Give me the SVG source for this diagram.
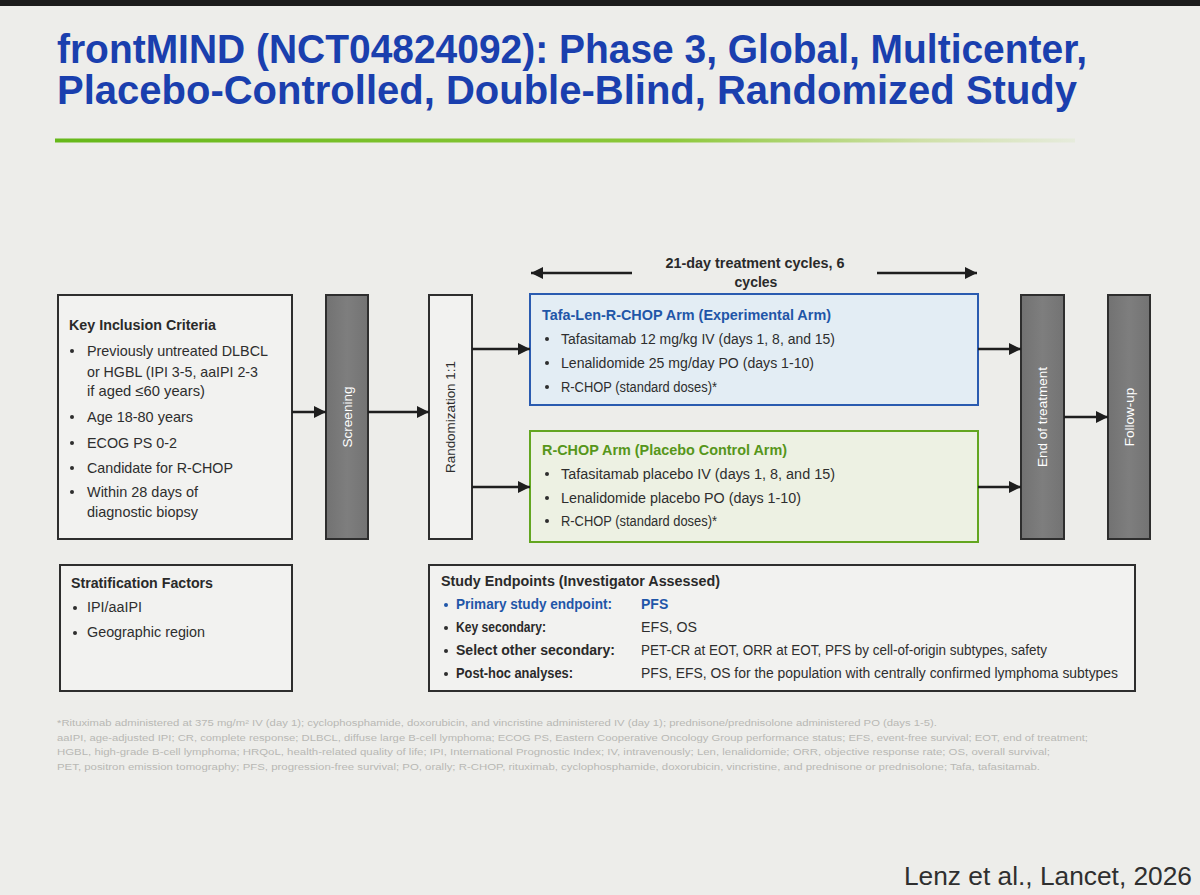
<svg xmlns="http://www.w3.org/2000/svg" width="1200" height="895" viewBox="0 0 1200 895">
<defs>
<linearGradient id="gline" x1="0" y1="0" x2="1" y2="0">
<stop offset="0" stop-color="#66b81a"/>
<stop offset="0.6" stop-color="#8cc83a"/>
<stop offset="0.85" stop-color="#cfe0a8"/>
<stop offset="1" stop-color="#e6ebdc"/>
</linearGradient>
<linearGradient id="gbar" x1="0" y1="0" x2="1" y2="0">
<stop offset="0" stop-color="#727272"/>
<stop offset="0.5" stop-color="#7e7e7e"/>
<stop offset="1" stop-color="#737373"/>
</linearGradient>
<marker id="ah" viewBox="0 0 12 12" refX="12" refY="6" markerWidth="12" markerHeight="13" markerUnits="userSpaceOnUse" orient="auto">
<path d="M0,0 L12,6 L0,12 z" fill="#1e1e1e"/>
</marker>
<style>
.t{font-family:"Liberation Sans",Arial,sans-serif;}
.title{font-family:"Liberation Sans",Arial,sans-serif;font-weight:bold;font-size:40px;fill:#1a3fae;}
.hd{font-family:"Liberation Sans",Arial,sans-serif;font-weight:bold;font-size:14.5px;fill:#2a2a2a;}
.tx{font-family:"Liberation Sans",Arial,sans-serif;font-size:14.5px;fill:#2e2e2e;}
.sm{font-family:"Liberation Sans",Arial,sans-serif;font-size:14px;fill:#2e2e2e;}
.smb{font-family:"Liberation Sans",Arial,sans-serif;font-size:14px;font-weight:bold;fill:#2a2a2a;}
.box{fill:#f2f2f0;stroke:#2e2e2e;stroke-width:2;}
.bar{fill:url(#gbar);stroke:#2e2e2e;stroke-width:2;}
.vt{font-family:"Liberation Sans",Arial,sans-serif;font-size:13.5px;fill:#ffffff;text-anchor:middle;}
.vd{font-family:"Liberation Sans",Arial,sans-serif;font-size:13.5px;fill:#2e2e2e;text-anchor:middle;}
.con{stroke:#1e1e1e;stroke-width:2.5;fill:none;marker-end:url(#ah);}
.dot{fill:#2e2e2e;}
.fn{font-family:"Liberation Sans",Arial,sans-serif;font-size:8.5px;fill:#b8b8b4;}
</style>
</defs>
<rect x="0" y="0" width="1200" height="895" fill="#ededea"/>
<rect x="0" y="0" width="1200" height="6" fill="#1c1c1c"/>

<g id="title">
<text class="title" x="57" y="63" textLength="1030" lengthAdjust="spacingAndGlyphs">frontMIND (NCT04824092): Phase 3, Global, Multicenter,</text>
<text class="title" x="57" y="104" textLength="1020" lengthAdjust="spacingAndGlyphs">Placebo-Controlled, Double-Blind, Randomized Study</text>
<rect x="55" y="138.5" width="1020" height="4" fill="url(#gline)"/>
</g>

<g id="cycles">
<text class="smb" x="755" y="268" text-anchor="middle" textLength="179" lengthAdjust="spacingAndGlyphs">21-day treatment cycles, 6</text>
<text class="smb" x="756" y="287" text-anchor="middle">cycles</text>
</g>

<g id="inclusion">
<rect class="box" x="58" y="295" width="234" height="244"/>
<text class="hd" x="69" y="330" textLength="147" lengthAdjust="spacingAndGlyphs">Key Inclusion Criteria</text>
<circle class="dot" cx="72" cy="351" r="2"/>
<text class="tx" x="87" y="356" textLength="181" lengthAdjust="spacingAndGlyphs">Previously untreated DLBCL</text>
<text class="tx" x="87" y="377" textLength="171" lengthAdjust="spacingAndGlyphs">or HGBL (IPI 3-5, aaIPI 2-3</text>
<text class="tx" x="87" y="396" textLength="118" lengthAdjust="spacingAndGlyphs">if aged ≤60 years)</text>
<circle class="dot" cx="72" cy="417" r="2"/>
<text class="tx" x="87" y="422" textLength="106" lengthAdjust="spacingAndGlyphs">Age 18-80 years</text>
<circle class="dot" cx="72" cy="443" r="2"/>
<text class="tx" x="87" y="448" textLength="90" lengthAdjust="spacingAndGlyphs">ECOG PS 0-2</text>
<circle class="dot" cx="72" cy="468" r="2"/>
<text class="tx" x="87" y="473" textLength="146" lengthAdjust="spacingAndGlyphs">Candidate for R-CHOP</text>
<circle class="dot" cx="72" cy="492" r="2"/>
<text class="tx" x="87" y="497" textLength="111" lengthAdjust="spacingAndGlyphs">Within 28 days of</text>
<text class="tx" x="87" y="517" textLength="111" lengthAdjust="spacingAndGlyphs">diagnostic biopsy</text>
</g>

<g id="screening">
<rect class="bar" x="326" y="295" width="42" height="244"/>
<text class="vt" transform="translate(352,417) rotate(-90)">Screening</text>
</g>

<g id="randomization">
<rect class="box" x="429" y="295" width="43" height="244" fill="#f5f5f3"/>
<text class="vd" transform="translate(455,417) rotate(-90)" textLength="112" lengthAdjust="spacingAndGlyphs">Randomization 1:1</text>
</g>

<g id="armExperimental">
<rect x="530" y="294" width="448" height="111" fill="#e3edf4" stroke="#2a5bb0" stroke-width="2"/>
<text class="smb" x="542" y="320" style="fill:#1f56a8" textLength="289" lengthAdjust="spacingAndGlyphs">Tafa-Len-R-CHOP Arm (Experimental Arm)</text>
<circle class="dot" cx="547" cy="339" r="2"/>
<text class="sm" x="561" y="344" textLength="274" lengthAdjust="spacingAndGlyphs">Tafasitamab 12 mg/kg IV (days 1, 8, and 15)</text>
<circle class="dot" cx="547" cy="363" r="2"/>
<text class="sm" x="561" y="368" textLength="253" lengthAdjust="spacingAndGlyphs">Lenalidomide 25 mg/day PO (days 1-10)</text>
<circle class="dot" cx="547" cy="387" r="2"/>
<text class="sm" x="561" y="392" textLength="156" lengthAdjust="spacingAndGlyphs">R-CHOP (standard doses)*</text>
</g>

<g id="armControl">
<rect x="530" y="431" width="448" height="111" fill="#edf1e3" stroke="#63a620" stroke-width="2"/>
<text class="smb" x="542" y="455" style="fill:#56961a" textLength="245" lengthAdjust="spacingAndGlyphs">R-CHOP Arm (Placebo Control Arm)</text>
<circle class="dot" cx="547" cy="474" r="2"/>
<text class="sm" x="561" y="479" textLength="274" lengthAdjust="spacingAndGlyphs">Tafasitamab placebo IV (days 1, 8, and 15)</text>
<circle class="dot" cx="547" cy="498" r="2"/>
<text class="sm" x="561" y="503" textLength="240" lengthAdjust="spacingAndGlyphs">Lenalidomide placebo PO (days 1-10)</text>
<circle class="dot" cx="547" cy="521" r="2"/>
<text class="sm" x="561" y="526" textLength="156" lengthAdjust="spacingAndGlyphs">R-CHOP (standard doses)*</text>
</g>

<g id="endOfTreatment">
<rect class="bar" x="1021" y="295" width="43" height="244"/>
<text class="vt" transform="translate(1047,417) rotate(-90)">End of treatment</text>
</g>

<g id="followUp">
<rect class="bar" x="1108" y="295" width="42" height="244"/>
<text class="vt" transform="translate(1134,417) rotate(-90)">Follow-up</text>
</g>

<g id="stratification">
<rect class="box" x="60" y="565" width="232" height="126"/>
<text class="hd" x="71" y="588" textLength="142" lengthAdjust="spacingAndGlyphs">Stratification Factors</text>
<circle class="dot" cx="75" cy="608" r="2"/>
<text class="sm" x="87" y="612" textLength="55" lengthAdjust="spacingAndGlyphs">IPI/aaIPI</text>
<circle class="dot" cx="75" cy="633" r="2"/>
<text class="sm" x="87" y="637" textLength="118" lengthAdjust="spacingAndGlyphs">Geographic region</text>
</g>

<g id="endpoints">
<rect class="box" x="429" y="565" width="706" height="126"/>
<text class="hd" x="441" y="586" textLength="279" lengthAdjust="spacingAndGlyphs">Study Endpoints (Investigator Assessed)</text>
<circle cx="446" cy="605" r="2" fill="#1f56a8"/>
<text class="smb" x="456" y="609" style="fill:#1f56a8" textLength="156" lengthAdjust="spacingAndGlyphs">Primary study endpoint:</text>
<text class="smb" x="641" y="609" style="fill:#1f56a8">PFS</text>
<circle class="dot" cx="446" cy="628" r="2"/>
<text class="smb" x="456" y="632" textLength="90" lengthAdjust="spacingAndGlyphs">Key secondary:</text>
<text class="sm" x="641" y="632" textLength="56" lengthAdjust="spacingAndGlyphs">EFS, OS</text>
<circle class="dot" cx="446" cy="651" r="2"/>
<text class="smb" x="456" y="655" textLength="159" lengthAdjust="spacingAndGlyphs">Select other secondary:</text>
<text class="sm" x="641" y="655" textLength="406" lengthAdjust="spacingAndGlyphs">PET-CR at EOT, ORR at EOT, PFS by cell-of-origin subtypes, safety</text>
<circle class="dot" cx="446" cy="674" r="2"/>
<text class="smb" x="456" y="678" textLength="117" lengthAdjust="spacingAndGlyphs">Post-hoc analyses:</text>
<text class="sm" x="641" y="678" textLength="477" lengthAdjust="spacingAndGlyphs">PFS, EFS, OS for the population with centrally confirmed lymphoma subtypes</text>
</g>

<g id="connectors">
<line class="con" x1="292" y1="412" x2="326" y2="412"/>
<line class="con" x1="368" y1="412" x2="429" y2="412"/>
<line class="con" x1="472" y1="349" x2="530" y2="349"/>
<line class="con" x1="472" y1="487" x2="530" y2="487"/>
<line class="con" x1="978" y1="349" x2="1021" y2="349"/>
<line class="con" x1="978" y1="487" x2="1021" y2="487"/>
<line class="con" x1="1064" y1="417" x2="1108" y2="417"/>
<line class="con" x1="632" y1="273" x2="531" y2="273"/>
<line class="con" x1="877" y1="273" x2="977" y2="273"/>
</g>

<g id="footnote">
<text class="fn" x="57" y="726" textLength="880" lengthAdjust="spacingAndGlyphs">*Rituximab administered at 375 mg/m² IV (day 1); cyclophosphamide, doxorubicin, and vincristine administered IV (day 1); prednisone/prednisolone administered PO (days 1-5).</text>
<text class="fn" x="57" y="741" textLength="1031" lengthAdjust="spacingAndGlyphs">aaIPI, age-adjusted IPI; CR, complete response; DLBCL, diffuse large B-cell lymphoma; ECOG PS, Eastern Cooperative Oncology Group performance status; EFS, event-free survival; EOT, end of treatment;</text>
<text class="fn" x="57" y="755" textLength="993" lengthAdjust="spacingAndGlyphs">HGBL, high-grade B-cell lymphoma; HRQoL, health-related quality of life; IPI, International Prognostic Index; IV, intravenously; Len, lenalidomide; ORR, objective response rate; OS, overall survival;</text>
<text class="fn" x="57" y="770" textLength="983" lengthAdjust="spacingAndGlyphs">PET, positron emission tomography; PFS, progression-free survival; PO, orally; R-CHOP, rituximab, cyclophosphamide, doxorubicin, vincristine, and prednisone or prednisolone; Tafa, tafasitamab.</text>
</g>

<g id="citation">
<text class="t" x="904" y="885" font-size="26" fill="#2f2f2f" textLength="288" lengthAdjust="spacingAndGlyphs">Lenz et al., Lancet, 2026</text>
</g>
</svg>
